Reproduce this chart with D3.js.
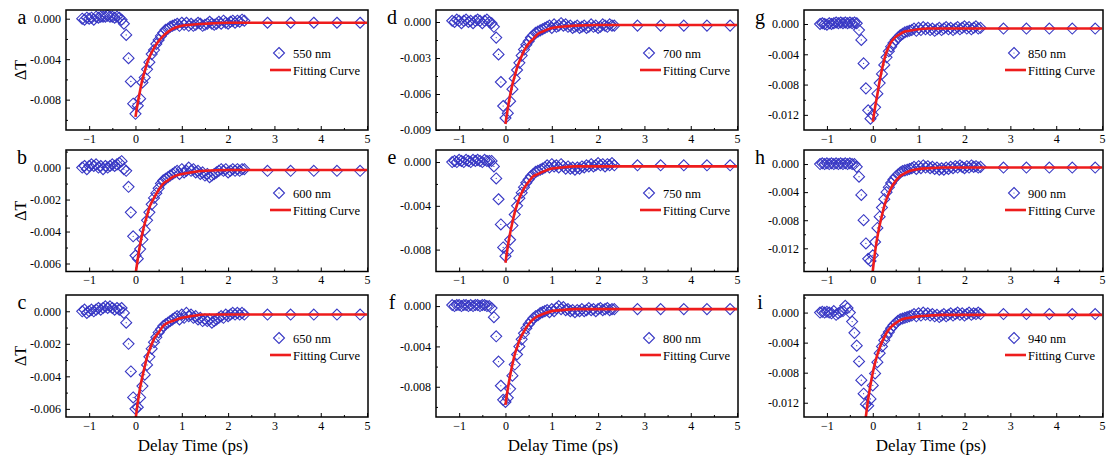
<!DOCTYPE html>
<html><head><meta charset="utf-8">
<script src="https://cdn.jsdelivr.net/npm/d3@7"></script>
<style>body{margin:0;background:#fff}svg{display:block;background:#fff}</style>
</head><body><svg id="c" width="1108" height="459"></svg>
<script>
// ---- data ----
const delayTime = [-1.15,-1.10,-1.05,-1.00,-0.95,-0.90,-0.85,-0.80,-0.75,-0.70,-0.65,-0.60,-0.55,-0.50,-0.45,-0.40,-0.35,
  -0.30,-0.25,-0.20,-0.15,-0.10,-0.05,0.00,0.05,0.10,
  0.15,0.20,0.25,0.30,0.35,0.40,0.45,0.50,0.55,0.60,0.65,0.70,0.75,0.80,
  0.85,0.90,0.95,1.00,1.05,1.10,1.15,1.20,1.25,1.30,1.35,1.40,1.45,1.50,1.55,1.60,1.65,1.70,1.75,1.80,1.85,1.90,1.95,2.00,2.05,2.10,2.15,2.20,2.25,2.30,2.35,
  2.85,3.35,3.85,4.35,4.85];
const fitTime = [-0.2,-0.15,-0.1,-0.05,0,0.05,0.1,0.15,0.2,0.25,0.3,0.4,0.5,0.6,0.7,0.8,1.0,1.2,1.5,2.0,3.0,5.0];

const panelLetters = ["a","b","c","d","e","f","g","h","i"];
const wavelengths = ["550 nm","600 nm","650 nm","700 nm","750 nm","800 nm","850 nm","900 nm","940 nm"];
const xTicks = [-1,0,1,2,3,4,5];

const dT550 = [0.0000,-0.0001,0.0001,0.0000,0.0001,-0.0001,0.0002,0.0001,0.0002,0.0002,0.0002,0.0003,0.0002,0.0002,0.0001,0.0002,0.0001,
  -0.0001,-0.0005,-0.0016,-0.0039,-0.0062,-0.0084,-0.0094,-0.0086,-0.0079,
  -0.0063,-0.0058,-0.0050,-0.0043,-0.0035,-0.0031,-0.0025,-0.0021,-0.0017,-0.0014,-0.0011,-0.0010,-0.0008,-0.0007,
  -0.0006,-0.0005,-0.0007,-0.0004,-0.0006,-0.0004,-0.0007,-0.0005,-0.0007,-0.0006,-0.0004,-0.0005,-0.0007,-0.0006,-0.0005,-0.0003,-0.0005,-0.0006,-0.0005,-0.0003,-0.0005,-0.0002,-0.0004,-0.0005,-0.0003,-0.0002,-0.0004,-0.0002,-0.0003,-0.0001,-0.0002,
  -0.0004,-0.0004,-0.0004,-0.0004,-0.0004];
const dT600 = [0.0000,0.0001,-0.0001,0.0001,0.0002,0.0001,0.0002,0.0000,0.0001,-0.0001,0.0001,0.0000,0.0001,0.0002,0.0001,0.0002,0.0003,
  0.0004,-0.0001,-0.0002,-0.0012,-0.0028,-0.0043,-0.0055,-0.0057,-0.0051,
  -0.0045,-0.0039,-0.0033,-0.0028,-0.0023,-0.0019,-0.0016,-0.0013,-0.0010,-0.0008,-0.0007,-0.0006,-0.0005,-0.0004,
  -0.0003,-0.0002,-0.0004,-0.0001,-0.0003,-0.0002,0.0000,-0.0002,-0.0001,-0.0003,-0.0002,-0.0004,-0.0003,-0.0005,-0.0004,-0.0006,-0.0005,-0.0004,-0.0003,-0.0002,-0.0001,-0.0002,-0.0001,-0.0003,-0.0002,-0.0001,-0.0002,-0.0001,-0.0002,-0.0001,-0.0001,
  -0.0002,-0.0002,-0.0002,-0.0002,-0.0002];
const dT650 = [0.0000,0.0001,-0.0001,0.0000,0.0001,0.0000,0.0001,0.0002,0.0001,0.0002,0.0003,0.0002,0.0003,0.0002,0.0001,0.0002,0.0001,
  0.0002,-0.0001,-0.0007,-0.0020,-0.0037,-0.0053,-0.0060,-0.0059,-0.0053,
  -0.0046,-0.0039,-0.0033,-0.0028,-0.0023,-0.0019,-0.0016,-0.0013,-0.0011,-0.0009,-0.0008,-0.0007,-0.0006,-0.0005,
  -0.0004,-0.0003,-0.0005,-0.0002,-0.0004,-0.0001,-0.0003,-0.0002,-0.0004,-0.0003,-0.0005,-0.0004,-0.0006,-0.0005,-0.0006,-0.0005,-0.0007,-0.0006,-0.0005,-0.0004,-0.0003,-0.0004,-0.0002,-0.0003,-0.0002,-0.0001,-0.0002,-0.0001,-0.0002,-0.0001,-0.0002,
  -0.0002,-0.0002,-0.0002,-0.0002,-0.0002];
const dT700 = [0.0001,0.0000,0.0002,0.0001,-0.0001,0.0001,0.0002,0.0000,0.0001,-0.0001,0.0001,0.0002,0.0001,-0.0001,0.0001,0.0002,0.0000,
  -0.0001,-0.0004,-0.0013,-0.0027,-0.0050,-0.0070,-0.0080,-0.0076,-0.0066,
  -0.0056,-0.0047,-0.0040,-0.0034,-0.0028,-0.0023,-0.0019,-0.0016,-0.0013,-0.0011,-0.0009,-0.0008,-0.0007,-0.0006,
  -0.0005,-0.0004,-0.0003,-0.0005,-0.0002,-0.0004,-0.0003,-0.0001,-0.0003,-0.0002,-0.0004,-0.0003,-0.0005,-0.0004,-0.0003,-0.0005,-0.0004,-0.0003,-0.0005,-0.0004,-0.0002,-0.0004,-0.0003,-0.0005,-0.0004,-0.0002,-0.0003,-0.0004,-0.0002,-0.0003,-0.0003,
  -0.0003,-0.0003,-0.0003,-0.0003,-0.0003];
const dT750 = [0.0000,0.0001,0.0000,0.0002,0.0001,0.0000,0.0002,0.0001,0.0000,0.0002,0.0001,0.0002,0.0001,0.0000,0.0002,0.0001,0.0001,
  0.0001,-0.0004,-0.0015,-0.0034,-0.0057,-0.0078,-0.0086,-0.0081,-0.0071,
  -0.0058,-0.0048,-0.0040,-0.0033,-0.0028,-0.0023,-0.0019,-0.0016,-0.0013,-0.0011,-0.0009,-0.0008,-0.0007,-0.0006,
  -0.0005,-0.0003,-0.0005,-0.0002,-0.0004,-0.0003,-0.0005,-0.0002,-0.0004,-0.0006,-0.0004,-0.0006,-0.0005,-0.0007,-0.0005,-0.0006,-0.0004,-0.0005,-0.0003,-0.0004,-0.0002,-0.0004,-0.0003,-0.0001,-0.0003,-0.0002,-0.0004,-0.0002,-0.0003,-0.0001,-0.0003,
  -0.0003,-0.0003,-0.0003,-0.0003,-0.0003];
const dT800 = [0.0001,0.0000,0.0001,0.0001,0.0000,0.0001,0.0001,0.0000,0.0001,0.0000,0.0001,0.0001,0.0000,0.0001,0.0001,0.0000,0.0000,
  -0.0002,-0.0011,-0.0030,-0.0055,-0.0079,-0.0093,-0.0095,-0.0091,-0.0082,
  -0.0069,-0.0058,-0.0048,-0.0040,-0.0033,-0.0027,-0.0022,-0.0018,-0.0015,-0.0012,-0.0010,-0.0009,-0.0007,-0.0006,
  -0.0005,-0.0004,-0.0006,-0.0003,-0.0005,-0.0002,0.0000,-0.0003,-0.0001,-0.0004,-0.0003,-0.0005,-0.0004,-0.0006,-0.0004,-0.0005,-0.0003,-0.0005,-0.0004,-0.0002,-0.0004,-0.0003,-0.0005,-0.0003,-0.0002,-0.0004,-0.0003,-0.0002,-0.0004,-0.0003,-0.0003,
  -0.0003,-0.0003,-0.0003,-0.0003,-0.0003];
const dT850 = [0.0000,0.0001,0.0000,-0.0001,0.0001,0.0000,0.0001,0.0002,0.0001,0.0002,0.0001,0.0002,0.0001,0.0002,0.0001,0.0002,0.0001,
  -0.0008,-0.0021,-0.0052,-0.0085,-0.0114,-0.0125,-0.0120,-0.0110,-0.0092,
  -0.0078,-0.0066,-0.0054,-0.0044,-0.0036,-0.0030,-0.0025,-0.0021,-0.0018,-0.0015,-0.0013,-0.0011,-0.0010,-0.0009,
  -0.0008,-0.0006,-0.0009,-0.0005,-0.0008,-0.0004,-0.0007,-0.0005,-0.0008,-0.0006,-0.0009,-0.0007,-0.0005,-0.0008,-0.0006,-0.0004,-0.0007,-0.0005,-0.0008,-0.0006,-0.0004,-0.0007,-0.0005,-0.0003,-0.0006,-0.0004,-0.0007,-0.0005,-0.0003,-0.0006,-0.0005,
  -0.0006,-0.0006,-0.0006,-0.0006,-0.0006];
const dT900 = [0.0000,0.0001,0.0000,0.0001,0.0000,0.0001,0.0000,0.0001,0.0000,0.0001,0.0000,0.0001,0.0000,0.0001,0.0000,0.0000,-0.0004,
  -0.0018,-0.0044,-0.0080,-0.0113,-0.0135,-0.0138,-0.0130,-0.0111,-0.0091,
  -0.0075,-0.0062,-0.0050,-0.0040,-0.0033,-0.0027,-0.0022,-0.0018,-0.0015,-0.0012,-0.0010,-0.0009,-0.0008,-0.0007,
  -0.0006,-0.0004,-0.0007,-0.0003,-0.0006,-0.0002,-0.0005,-0.0003,-0.0006,-0.0004,-0.0007,-0.0005,-0.0008,-0.0006,-0.0008,-0.0005,-0.0007,-0.0004,-0.0006,-0.0003,-0.0005,-0.0002,-0.0004,-0.0006,-0.0003,-0.0005,-0.0002,-0.0004,-0.0003,-0.0005,-0.0004,
  -0.0005,-0.0005,-0.0005,-0.0005,-0.0005];
const dT940 = [0.0000,0.0001,0.0000,0.0001,0.0000,-0.0001,0.0002,-0.0003,-0.0001,0.0001,0.0002,0.0009,0.0006,0.0000,-0.0012,-0.0027,-0.0044,
  -0.0065,-0.0090,-0.0108,-0.0122,-0.0124,-0.0115,-0.0097,-0.0081,-0.0066,
  -0.0054,-0.0045,-0.0037,-0.0031,-0.0026,-0.0021,-0.0017,-0.0014,-0.0011,-0.0009,-0.0008,-0.0007,-0.0006,-0.0005,
  -0.0004,-0.0002,-0.0005,-0.0001,-0.0004,0.0000,-0.0003,-0.0001,-0.0004,-0.0002,-0.0005,-0.0003,-0.0006,-0.0004,-0.0002,-0.0005,-0.0003,-0.0001,-0.0004,-0.0002,0.0000,-0.0003,-0.0001,-0.0004,-0.0002,0.0000,-0.0003,-0.0001,-0.0002,0.0000,-0.0002,
  -0.0002,-0.0002,-0.0002,-0.0002,-0.0002];

const fit550 = [null,null,null,null,-0.0097,-0.0083,-0.0071,-0.0060,-0.0052,-0.0044,-0.0038,-0.0029,-0.0022,-0.0017,-0.0013,-0.0010,-0.0007,-0.0006,-0.0005,-0.0004,-0.0004,-0.0004];
const fit600 = [null,null,null,null,-0.0067,-0.0057,-0.0048,-0.0041,-0.0035,-0.0030,-0.0025,-0.0019,-0.0014,-0.0010,-0.0008,-0.0006,-0.0004,-0.0003,-0.0002,-0.00015,-0.00015,-0.00015];
const fit650 = [null,null,null,null,-0.0067,-0.0056,-0.0047,-0.0040,-0.0034,-0.0028,-0.0024,-0.0017,-0.0013,-0.0009,-0.0007,-0.0006,-0.0004,-0.0003,-0.0002,-0.0002,-0.0002,-0.0002];
const fit700 = [null,null,null,null,-0.0085,-0.0072,-0.0061,-0.0052,-0.0045,-0.0038,-0.0033,-0.0024,-0.0018,-0.0014,-0.0010,-0.0008,-0.0005,-0.0004,-0.0003,-0.00025,-0.00025,-0.00025];
const fit750 = [null,null,null,null,-0.0092,-0.0077,-0.0065,-0.0055,-0.0046,-0.0039,-0.0033,-0.0024,-0.0018,-0.0013,-0.0011,-0.0009,-0.0006,-0.0005,-0.0004,-0.0004,-0.0004,-0.0004];
const fit800 = [null,null,null,null,-0.0098,-0.0082,-0.0069,-0.0058,-0.0048,-0.0041,-0.0034,-0.0025,-0.0018,-0.0013,-0.0010,-0.0008,-0.0005,-0.0004,-0.0003,-0.0003,-0.0003,-0.0003];
const fit850 = [null,null,null,null,-0.0129,-0.0110,-0.0093,-0.0075,-0.0060,-0.0047,-0.0037,-0.0024,-0.0017,-0.0013,-0.0010,-0.0009,-0.0007,-0.0006,-0.0006,-0.0006,-0.0006,-0.0006];
const fit900 = [null,null,null,-0.0185,-0.0152,-0.0125,-0.0104,-0.0087,-0.0073,-0.0060,-0.0050,-0.0034,-0.0024,-0.0017,-0.0013,-0.0010,-0.0007,-0.0006,-0.0005,-0.0005,-0.0005,-0.0005];
const fit940 = [-0.0160,-0.0138,-0.0115,-0.0096,-0.0080,-0.0067,-0.0056,-0.0047,-0.0039,-0.0033,-0.0027,-0.0019,-0.0014,-0.0010,-0.0008,-0.0007,-0.0005,-0.0004,-0.0003,-0.0003,-0.0003,-0.0003];

const yMinValues = [-0.011,-0.0065,-0.0065,-0.009,-0.010,-0.011,-0.014,-0.0153,-0.0139];
const yMaxValues = [0.00086,0.0011,0.001,0.001,0.0011,0.0011,0.00185,0.002,0.00234];
const yTicks550 = [0,-0.004,-0.008];
const yTicks600 = [0,-0.002,-0.004,-0.006];
const yTicks650 = [0,-0.002,-0.004,-0.006];
const yTicks700 = [0,-0.003,-0.006,-0.009];
const yTicks750 = [0,-0.004,-0.008];
const yTicks800 = [0,-0.004,-0.008];
const yTicks850 = [0,-0.004,-0.008,-0.012];
const yTicks900 = [0,-0.004,-0.008,-0.012];
const yTicks940 = [0,-0.004,-0.008,-0.012];

const seriesList = [dT550,dT600,dT650,dT700,dT750,dT800,dT850,dT900,dT940];
const fitList = [fit550,fit600,fit650,fit700,fit750,fit800,fit850,fit900,fit940];
const yTickList = [yTicks550,yTicks600,yTicks650,yTicks700,yTicks750,yTicks800,yTicks850,yTicks900,yTicks940];

// ---- layout / style ----
const FONT = "Liberation Serif";
const BLUE = "#3838c4", RED = "#ee1c1c";
const colLeft = [66, 436, 804], colWidth = [302, 302, 299];
const rowTop = [10, 150, 295], rowBottom = [130, 271.5, 417];
const diamond = "M0,-5.5L5.5,0L0,5.5L-5.5,0Z";
const fmt = d => d3.format(".3f")(d).replace("\u2212", "-");

const svg = d3.select("#c").style("font-family", FONT);

panelLetters.forEach((letter, p) => {
  const col = Math.floor(p / 3), row = p % 3;
  const plotW = colWidth[col];
  const left = colLeft[col], right = left + plotW, top = rowTop[row], bottom = rowBottom[row];
  const x = d3.scaleLinear().domain([-1.5, 5.02]).range([left, right]);
  const y = d3.scaleLinear().domain([yMinValues[p], yMaxValues[p]]).range([bottom, top]);
  const g = svg.append("g");

  const clipId = "clip" + p;
  g.append("clipPath").attr("id", clipId).append("rect")
    .attr("x", left).attr("y", top).attr("width", plotW).attr("height", bottom - top);

  // minor ticks
  const majors = yTickList[p];
  const step = majors[0] - majors[1];
  const yMinor = [];
  majors.forEach(m => { [m + step / 2, m - step / 2].forEach(v => {
    if (v > yMinValues[p] && v < yMaxValues[p] && !yMinor.some(u => Math.abs(u - v) < 1e-9)) yMinor.push(v); }); });
  const xMinor = [-0.5, 0.5, 1.5, 2.5, 3.5, 4.5];

  const styleAxis = sel => {
    sel.attr("font-family", null).style("font-family", FONT);
    sel.select(".domain").remove();
    sel.selectAll("line").attr("stroke", "#000").attr("stroke-width", 1);
    sel.selectAll("text").style("font-family", FONT).attr("font-size", 12).attr("fill", "#000");
  };
  g.append("g").attr("transform", `translate(${left},0)`)
    .call(d3.axisLeft(y).tickValues(majors).tickSize(-4).tickPadding(5).tickFormat(fmt)).call(styleAxis);
  g.append("g").attr("transform", `translate(${left},0)`)
    .call(d3.axisLeft(y).tickValues(yMinor).tickSize(-2).tickFormat("")).call(styleAxis);
  g.append("g").attr("transform", `translate(0,${bottom})`)
    .call(d3.axisBottom(x).tickValues(xTicks).tickSize(-4).tickPadding(4).tickFormat(d3.format("d"))).call(styleAxis);
  g.append("g").attr("transform", `translate(0,${bottom})`)
    .call(d3.axisBottom(x).tickValues(xMinor).tickSize(-2).tickFormat("")).call(styleAxis);

  // data
  const pts = delayTime.map((t, i) => [t, seriesList[p][i]]).filter(d => d[1] != null);
  const pg = g.append("g").attr("clip-path", `url(#${clipId})`);
  pg.selectAll("path.pt").data(pts).join("path").attr("class", "pt")
    .attr("d", diamond).attr("transform", d => `translate(${x(d[0])},${y(d[1])})`)
    .attr("fill", "none").attr("stroke", BLUE).attr("stroke-width", 1.1);
  pg.selectAll("circle.dot").data(pts).join("circle").attr("class", "dot")
    .attr("cx", d => x(d[0])).attr("cy", d => y(d[1])).attr("r", 0.6).attr("fill", BLUE);

  const fitPts = fitTime.map((t, i) => [t, fitList[p][i]]);
  const line = d3.line().defined(d => d[1] != null).x(d => x(d[0])).y(d => y(d[1])).curve(d3.curveMonotoneX);
  pg.append("path").datum(fitPts).attr("d", line).attr("fill", "none")
    .attr("stroke", RED).attr("stroke-width", 2.6);

  // frame
  g.append("rect").attr("x", left).attr("y", top).attr("width", plotW).attr("height", bottom - top)
    .attr("fill", "none").attr("stroke", "#000").attr("stroke-width", 1.5);

  // legend
  const ly = top + 43;
  g.append("path").attr("d", diamond).attr("transform", `translate(${right - 89},${ly})`)
    .attr("fill", "none").attr("stroke", BLUE).attr("stroke-width", 1.1);
  g.append("circle").attr("cx", right - 89).attr("cy", ly).attr("r", 0.6).attr("fill", BLUE);
  g.append("text").attr("x", right - 75).attr("y", ly + 4.5).text(wavelengths[p])
    .style("font-family", FONT).attr("font-size", 12.5);
  g.append("line").attr("x1", right - 98).attr("x2", right - 77).attr("y1", ly + 17).attr("y2", ly + 17)
    .attr("stroke", RED).attr("stroke-width", 2.6);
  g.append("text").attr("x", right - 75).attr("y", ly + 21.5).text("Fitting Curve")
    .style("font-family", FONT).attr("font-size", 12.5);

  // panel letter
  g.append("text").attr("x", left - 44).attr("y", top + 14).attr("text-anchor", "middle")
    .style("font-family", FONT).attr("font-size", 20).text(letter);

  if (col === 0) {
    const cy = (top + bottom) / 2;
    g.append("text").attr("transform", `translate(22,${cy}) rotate(-90)`)
      .attr("text-anchor", "middle").attr("dominant-baseline", "middle")
      .style("font-family", FONT).attr("font-size", 16).text("ΔT");
  }
  if (row === 2) {
    g.append("text").attr("x", left + 127).attr("y", 451).attr("text-anchor", "middle")
      .style("font-family", FONT).attr("font-size", 17).text("Delay Time (ps)");
  }
});
</script></body></html>
